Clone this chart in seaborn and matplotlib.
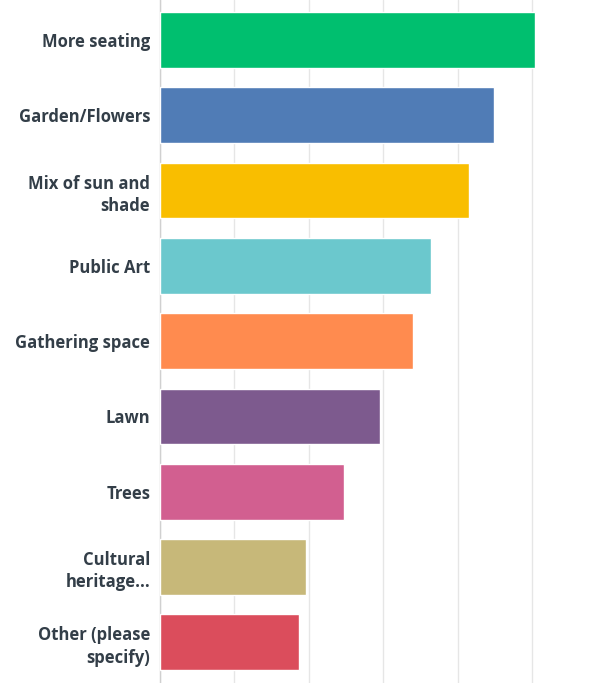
import matplotlib
matplotlib.use("Agg")
import matplotlib.pyplot as plt
import seaborn as sns
import pandas as pd

# Survey answers (percent of respondents)
categories = [
    "More seating",
    "Garden/Flowers",
    "Mix of sun and\nshade",
    "Public Art",
    "Gathering space",
    "Lawn",
    "Trees",
    "Cultural\nheritage...",
    "Other (please\nspecify)",
]
values = [50.4, 44.9, 41.5, 36.4, 34.0, 29.6, 24.7, 19.6, 18.7]
colors = ["#00BF6F", "#507CB6", "#F9BE00", "#6BC8CD", "#FF8B4F",
          "#7D5A8E", "#D25F90", "#C7B879", "#DB4D5C"]

df = pd.DataFrame({"category": categories, "value": values})

sns.set_style("white")
plt.rcParams["font.family"] = ["Open Sans", "DejaVu Sans"]

fig = plt.figure(figsize=(5.98, 6.83), dpi=100)
ax = fig.add_axes([160 / 598, 0.0, 417 / 598, 1.0])

sns.barplot(data=df, x="value", y="category", hue="category",
            palette=colors, legend=False, width=0.74, ax=ax,
            saturation=1, zorder=3)

ax.set_xlim(0, 56)
ax.set_ylim(8.54, -0.53)
ax.set_xticks([0, 10, 20, 30, 40, 50])
ax.xaxis.grid(True, color="#e6e6e6", linewidth=1, zorder=0)
ax.set_xticklabels([])
ax.tick_params(axis="x", length=0)
ax.tick_params(axis="y", length=0, pad=7)
ax.set_xlabel("")
ax.set_ylabel("")
for side in ["top", "right", "bottom"]:
    ax.spines[side].set_visible(False)
ax.spines["left"].set_color("#d0d0d0")
ax.spines["left"].set_linewidth(1)

for lab in ax.get_yticklabels():
    lab.set_fontsize(12)
    lab.set_fontweight("bold")
    lab.set_color("#333E48")
    lab.set_horizontalalignment("right")
    lab.set_multialignment("right")
    lab.set_linespacing(1.3)

fig.savefig("out.png", dpi=100)
